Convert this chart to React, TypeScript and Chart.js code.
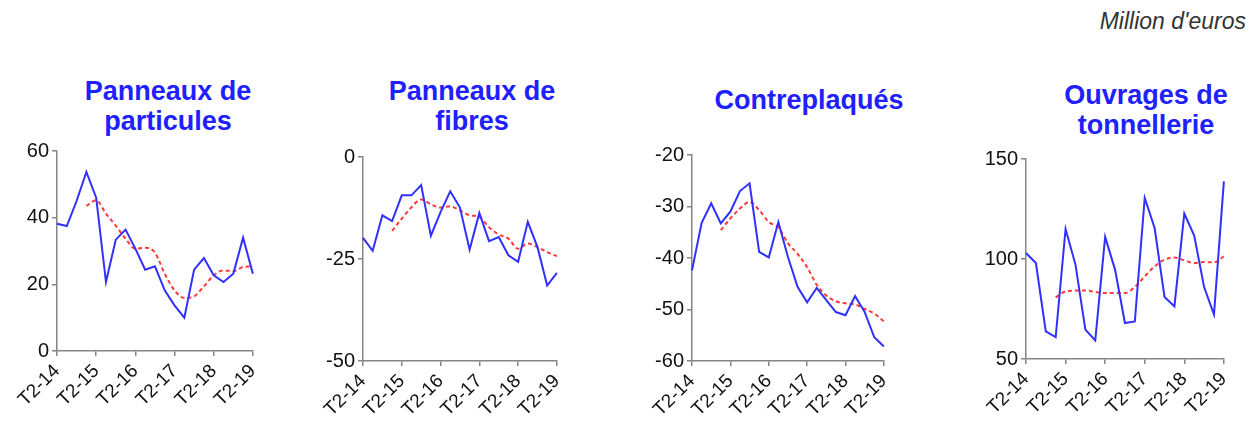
import React, { useEffect, useRef } from "react";
import { Chart, registerables } from "chart.js";
Chart.register(...registerables);

const quarters = [
  "T2-14", "T3-14", "T4-14", "T1-15", "T2-15", "T3-15", "T4-15", "T1-16", "T2-16",
  "T3-16", "T4-16", "T1-17", "T2-17", "T3-17", "T4-17", "T1-18", "T2-18", "T3-18",
  "T4-18", "T1-19", "T2-19",
];

const particulesValues = [38.2, 37.5, 45, 53.7, 46, 20.7, 33.4, 36.4, 30.7, 24.4, 25.4, 18.2, 13.7, 10, 24.4, 27.9, 22.7, 20.7, 23.2, 34, 23.2];
const particulesTrend = [null, null, null, 43.5, 45.2, 41.2, 37.6, 33.7, 30.7, 31, 29.5, 23.2, 18.2, 15.9, 16.4, 19.4, 22.7, 24.2, 23.9, 25.2, 25.4];

const fibresValues = [-19.8, -23.0, -14.3, -15.7, -9.4, -9.4, -6.9, -19.3, -13.5, -8.4, -12.4, -22.7, -13.7, -20.6, -19.6, -24.1, -25.7, -15.9, -22.1, -31.5, -28.4];
const fibresTrend = [null, null, null, -18.1, -15.1, -12.3, -10.4, -11.6, -12.4, -12.1, -13.1, -14.3, -14.7, -17.2, -19, -20, -22.5, -21.2, -22.1, -23.3, -24.3];

const contreValues = [-42.4, -33.2, -29.4, -33.3, -31.0, -27.0, -25.5, -38.8, -39.9, -33.0, -39.8, -45.6, -48.6, -45.8, -48.2, -50.5, -51.1, -47.4, -50.5, -55.4, -57.2];
const contreTrend = [null, null, null, -34.6, -32.3, -30.4, -29.1, -30.7, -33.0, -34.1, -37.1, -39.2, -41.8, -45.2, -47.3, -48.4, -48.8, -49, -49.9, -50.8, -52.3];

const tonnValues = [103, 98, 63.8, 61, 115, 97.2, 64.7, 59.3, 111, 94.7, 68, 68.8, 130.5, 115.5, 81, 76.3, 122.7, 111.7, 86, 72.2, 138.8];
const tonnTrend = [null, null, null, 80.8, 83.8, 84.2, 84.3, 83.5, 83, 83, 83, 86, 91.3, 96.3, 99.7, 100.8, 99.3, 98, 98.5, 98.3, 101.3];

const titles = [
  ["Panneaux de", "particules"],
  ["Panneaux de", "fibres"],
  ["Contreplaqués"],
  ["Ouvrages de", "tonnellerie"],
];
const yMins = [0, -50, -60, 50];
const yMaxs = [60, 0, -20, 150];
const ySteps = [20, 25, 10, 50];
const unitLabel = "Million d'euros";

// layout (plot area rectangles in page px)
const plots = [
  { l: 57, r: 253, t: 151, b: 351, titleX: 168, titleTop: 76 },
  { l: 363, r: 557, t: 157, b: 361, titleX: 472, titleTop: 76 },
  { l: 692, r: 884, t: 155, b: 361, titleX: 809, titleTop: 85 },
  { l: 1026, r: 1224, t: 159, b: 359, titleX: 1146, titleTop: 80 },
];

const Y_W = 60;
const PAD_T = 20;
const PAD_R = 20;
const X_H = 70;

const BLUE = "#3030ff";
const RED = "#ff3a3a";
const AXIS = "#858585";
const FONT = "'Liberation Sans', Arial, sans-serif";

function Panel(props: { idx: number; values: number[]; trend: (number | null)[] }) {
  const ref = useRef<HTMLCanvasElement | null>(null);
  const { idx, values, trend } = props;
  const p = plots[idx];
  const w = p.r - p.l + Y_W + PAD_R;
  const h = p.b - p.t + PAD_T + X_H;
  useEffect(() => {
    if (!ref.current) return;
    const chart = new Chart(ref.current, {
      type: "line",
      data: {
        labels: quarters,
        datasets: [
          {
            data: values,
            borderColor: BLUE,
            borderWidth: 2,
            pointRadius: 0,
            tension: 0,
            fill: false,
          },
          {
            data: trend,
            borderColor: RED,
            borderWidth: 2,
            borderDash: [4, 3],
            pointRadius: 0,
            tension: 0.4,
            cubicInterpolationMode: "monotone",
            fill: false,
            spanGaps: false,
          },
        ],
      },
      options: {
        animation: false,
        responsive: false,
        maintainAspectRatio: false,
        layout: { padding: { top: PAD_T, right: PAD_R, left: 0, bottom: 0 } },
        plugins: { legend: { display: false }, tooltip: { enabled: false }, title: { display: false } },
        scales: {
          x: {
            type: "category",
            offset: false,
            border: { color: AXIS, width: 1.5 },
            grid: { display: true, drawOnChartArea: false, drawTicks: true, tickLength: 5, color: AXIS, lineWidth: 1.5 },
            ticks: {
              autoSkip: false,
              maxRotation: 45,
              minRotation: 45,
              padding: 4,
              color: "#111",
              font: { family: FONT, size: 19 },
              callback: (_v: any, i: number) => (i % 4 === 0 ? quarters[i] : null),
            },
            afterFit: (s: any) => {
              s.height = X_H;
            },
          },
          y: {
            min: yMins[idx],
            max: yMaxs[idx],
            border: { color: AXIS, width: 1.5 },
            grid: { display: true, drawOnChartArea: false, drawTicks: true, tickLength: 5, color: AXIS, lineWidth: 1.5 },
            ticks: {
              stepSize: ySteps[idx],
              padding: 3,
              color: "#111",
              font: { family: FONT, size: 20 },
            },
            afterFit: (s: any) => {
              s.width = Y_W;
            },
          },
        },
      },
    } as any);
    return () => chart.destroy();
  }, []);
  return (
    <canvas
      ref={ref}
      width={w}
      height={h}
      style={{ position: "absolute", left: p.l - Y_W, top: p.t - PAD_T, width: w, height: h }}
    />
  );
}

export default function App() {
  const series = [
    [particulesValues, particulesTrend],
    [fibresValues, fibresTrend],
    [contreValues, contreTrend],
    [tonnValues, tonnTrend],
  ];
  return (
    <div
      style={{
        position: "fixed",
        left: 0,
        top: 0,
        width: 1249,
        height: 421,
        overflow: "hidden",
        background: "#fff",
      }}
    >
      <div
        style={{
          position: "absolute",
          right: 3,
          top: 8,
          fontFamily: FONT,
          fontStyle: "italic",
          fontSize: 23,
          color: "#333",
          whiteSpace: "nowrap",
        }}
      >
        {unitLabel}
      </div>
      {titles.map((t, i) => (
        <div
          key={"t" + i}
          style={{
            position: "absolute",
            left: plots[i].titleX - 150,
            width: 300,
            top: plots[i].titleTop,
            textAlign: "center",
            fontFamily: FONT,
            fontWeight: "bold",
            fontSize: 27,
            lineHeight: "30px",
            color: "#2020ff",
          }}
        >
          {t.map((line, j) => (
            <div key={j}>{line}</div>
          ))}
        </div>
      ))}
      {series.map((s, i) => (
        <Panel key={i} idx={i} values={s[0] as number[]} trend={s[1] as (number | null)[]} />
      ))}
    </div>
  );
}
